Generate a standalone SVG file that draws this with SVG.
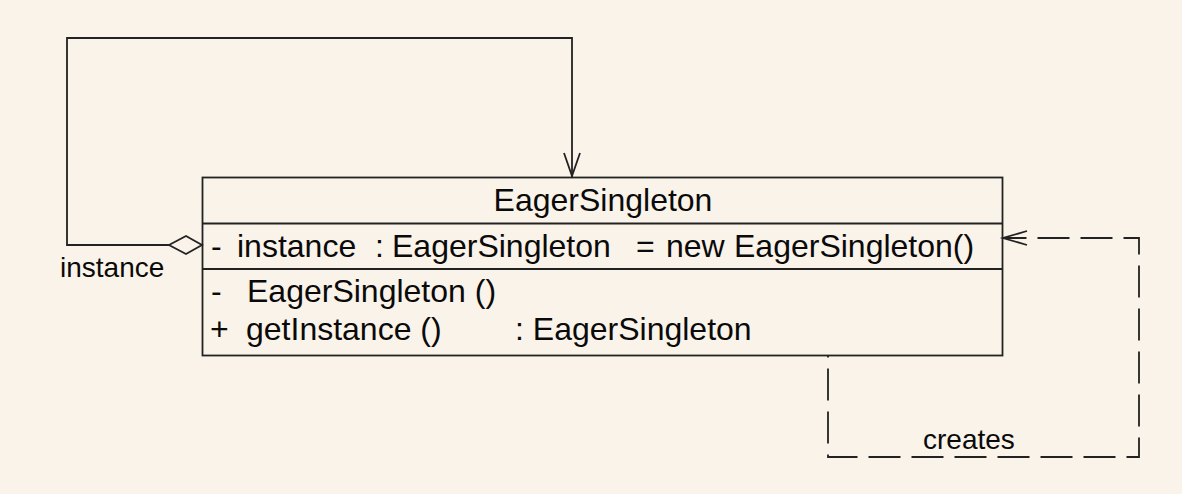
<svg xmlns="http://www.w3.org/2000/svg" width="1182" height="494" viewBox="0 0 1182 494">
<style>
.ln{fill:none;stroke:#222;stroke-width:1.8}
.dash{fill:none;stroke:#222;stroke-width:1.8;stroke-dasharray:32 11;stroke-dashoffset:30.5}
.t{font-family:"Liberation Sans",Arial,sans-serif;font-size:32px;fill:#0a0a0a}
.lbl{font-family:"Liberation Sans",Arial,sans-serif;font-size:28px;fill:#0a0a0a}
</style>
<rect width="1182" height="494" fill="#faf3e9"/>
<g id="connectors">
  <polyline class="ln" points="169,245 67,245 67,38 572,38 572,177"/>
  <polyline class="ln" points="564,153 572,176 580,153"/>
  <polygon class="ln" points="169,245 186,236 202,245 186,254" fill="#faf3e9"/>
  <text class="lbl" x="60" y="277">instance</text>
  <polyline class="dash" points="828,356 828,457 1139,457 1139,238 1003,238"/>
  <polyline class="ln" points="1027,231 1003,238 1027,245"/>
  <text class="lbl" x="923" y="449">creates</text>
</g>
<g id="EagerSingleton">
  <rect class="ln" x="202.5" y="177.5" width="800" height="178" fill="#faf3e9"/>
  <line class="ln" x1="202.5" y1="223.5" x2="1002.5" y2="223.5"/>
  <line class="ln" x1="202.5" y1="269" x2="1002.5" y2="269"/>
  <text class="t" x="603" y="211" text-anchor="middle">EagerSingleton</text>
  <text class="t" x="211" y="257">-</text>
  <text class="t" x="237" y="257">instance</text>
  <text class="t" x="375" y="257">:</text>
  <text class="t" x="392" y="257">EagerSingleton</text>
  <text class="t" x="636" y="257">=</text>
  <text class="t" x="666" y="257">new</text>
  <text class="t" x="734" y="257">EagerSingleton()</text>
  <text class="t" x="211" y="302">-</text>
  <text class="t" x="247" y="302">EagerSingleton ()</text>
  <text class="t" x="210" y="340">+</text>
  <text class="t" x="246" y="340">getInstance ()</text>
  <text class="t" x="515" y="340">: EagerSingleton</text>
</g>
</svg>
